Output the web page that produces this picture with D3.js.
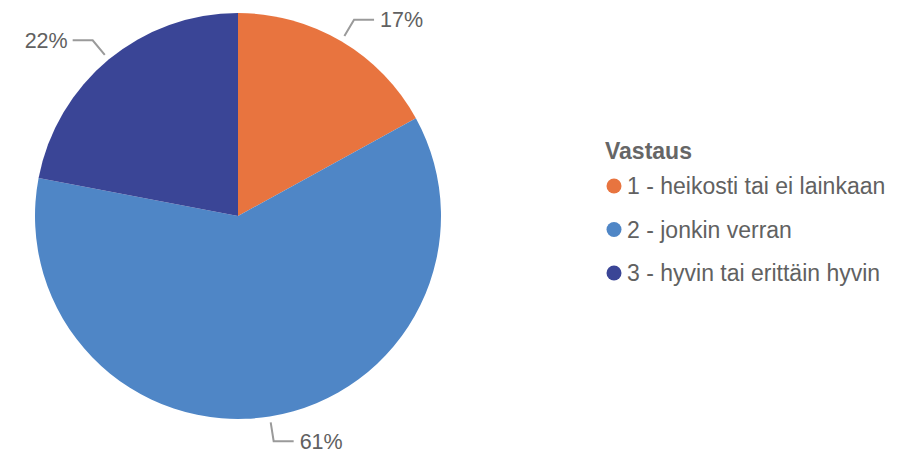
<!DOCTYPE html>
<html>
<head>
<meta charset="utf-8">
<script src="https://cdn.jsdelivr.net/npm/d3@7"></script>
<style>
  html, body { margin: 0; padding: 0; background: #fff; }
  svg { display: block; font-family: "Liberation Sans", Arial, sans-serif; }
</style>
</head>
<body>
<svg id="chart" width="913" height="453"></svg>
<script>
// Answer categories and their shares (%)
const categories = ["1 - heikosti tai ei lainkaan", "2 - jonkin verran", "3 - hyvin tai erittäin hyvin"];
const values = [17, 61, 22];
const colors = ["#E8743F", "#4F86C6", "#3A4596"];
const legendTitle = "Vastaus";

const svg = d3.select("#chart");
const cx = 238, cy = 216, radius = 203;

const pie = d3.pie().value(d => d.value).sort(null);
const data = pie(categories.map((c, i) => ({ name: c, value: values[i], color: colors[i] })));

const arc = d3.arc().innerRadius(0).outerRadius(radius);
const g = svg.append("g").attr("transform", `translate(${cx},${cy})`);

g.selectAll("path.slice")
  .data(data)
  .enter().append("path")
  .attr("class", "slice")
  .attr("d", arc)
  .attr("fill", d => d.data.color);

// Leader lines and percentage labels
const startArc = d3.arc().innerRadius(radius + 6).outerRadius(radius + 6);
const bendArc = d3.arc().innerRadius(radius + 25).outerRadius(radius + 25);
data.forEach(d => {
  const mid = (d.startAngle + d.endAngle) / 2;
  const p0 = startArc.centroid(d);
  const p1 = bendArc.centroid(d);
  const right = Math.sin(mid) >= 0;
  const p2 = [p1[0] + (right ? 20 : -20), p1[1]];
  g.append("polyline")
    .attr("points", [p0, p1, p2].map(p => p.join(",")).join(" "))
    .attr("fill", "none")
    .attr("stroke", "#9a9a9a")
    .attr("stroke-width", 2);
  g.append("text")
    .attr("x", p2[0] + (right ? 6 : -5))
    .attr("y", p2[1])
    .attr("dy", "0.35em")
    .attr("text-anchor", right ? "start" : "end")
    .attr("font-size", 21.5)
    .attr("fill", "#616161")
    .text(d.data.value + "%");
});

// Legend
const legend = svg.append("g").attr("transform", "translate(605,151)");
legend.append("text")
  .attr("x", 0).attr("y", 0).attr("dy", "0.35em")
  .attr("font-size", 23).attr("font-weight", "bold")
  .attr("fill", "#666666")
  .text(legendTitle);

const items = legend.selectAll("g.item")
  .data(data)
  .enter().append("g")
  .attr("class", "item")
  .attr("transform", (d, i) => `translate(0,${35 + i * 43.5})`);
items.append("circle")
  .attr("cx", 9).attr("cy", 0).attr("r", 7.5)
  .attr("fill", d => d.data.color);
items.append("text")
  .attr("x", 22).attr("y", 0).attr("dy", "0.35em")
  .attr("font-size", 23)
  .attr("fill", "#616161")
  .text(d => d.data.name);
</script>
</body>
</html>
